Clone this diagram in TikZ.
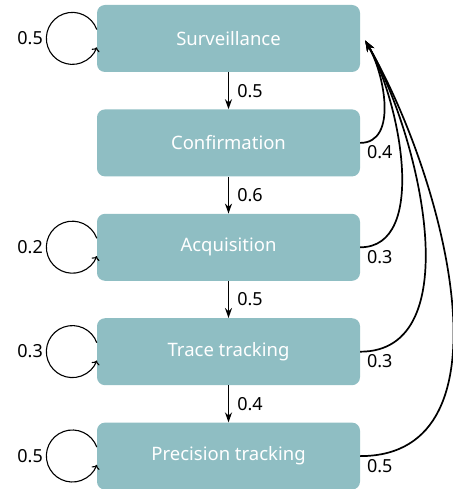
\documentclass[tikz,border=0pt]{standalone}
\usepackage{fontspec}
\setmainfont{Noto Sans}
\usetikzlibrary{positioning,arrows.meta}
\definecolor{boxteal}{RGB}{143,190,195}
\begin{document}
\begin{tikzpicture}[x=1pt,y=-1pt,
  state/.style={draw=none,fill=boxteal,rounded corners=8pt,minimum width=263pt,
    minimum height=67pt,text=white,font=\fontsize{18.5}{22}\selectfont},
  prob/.style={font=\fontsize{18}{21}\selectfont,inner sep=2pt},
  down/.style={line width=1.6pt,-{Stealth[length=10pt,width=7pt]}},
  back/.style={line width=1.7pt,-{Stealth[length=11pt,width=8pt]}},
  selfloop/.style={line width=1.1pt,->}]
\useasboundingbox (0,0) rectangle (452,489);

\node[state] (surv) at (228.5,38.5) {Surveillance};
\node[state,below=37pt of surv] (conf) {Confirmation};
\node[state,below=37pt of conf] (acq) {Acquisition};
\node[state,below=37pt of acq] (trace) {Trace tracking};
\node[state,below=37pt of trace] (prec) {Precision tracking};

\draw[down] (surv) -- node[prob,right=6pt] {0.5} (conf);
\draw[down] (conf) -- node[prob,right=6pt] {0.6} (acq);
\draw[down] (acq) -- node[prob,right=6pt] {0.5} (trace);
\draw[down] (trace) -- node[prob,right=6pt] {0.4} (prec);

% self loops
\draw[selfloop] ([yshift=9pt]surv.west) arc[start angle=20,end angle=340,radius=26pt]
  node[prob,pos=0.5,left=1pt] {0.5};
\draw[selfloop] ([yshift=9pt]acq.west) arc[start angle=20,end angle=340,radius=26pt]
  node[prob,pos=0.5,left=1pt] {0.2};
\draw[selfloop] ([yshift=9pt]trace.west) arc[start angle=20,end angle=340,radius=26pt]
  node[prob,pos=0.5,left=1pt] {0.3};
\draw[selfloop] ([yshift=9pt]prec.west) arc[start angle=20,end angle=340,radius=26pt]
  node[prob,pos=0.5,left=1pt] {0.5};

% back to surveillance
\coordinate (top) at ([xshift=5pt,yshift=-2pt]surv.east);
\draw[back] (conf.east) to[out=0,in=-60,looseness=0.95]
  node[prob,pos=0,anchor=north west,xshift=4pt] {0.4} (top);
\draw[back] (acq.east) to[out=0,in=-60,looseness=0.85]
  node[prob,pos=0,anchor=north west,xshift=4pt] {0.3} (top);
\draw[back] (trace.east) to[out=0,in=-60,looseness=0.9]
  node[prob,pos=0,anchor=north west,xshift=4pt] {0.3} (top);
\draw[back] (prec.east) to[out=0,in=-60,looseness=0.97]
  node[prob,pos=0,anchor=north west,xshift=4pt] {0.5} (top);

\end{tikzpicture}
\end{document}
